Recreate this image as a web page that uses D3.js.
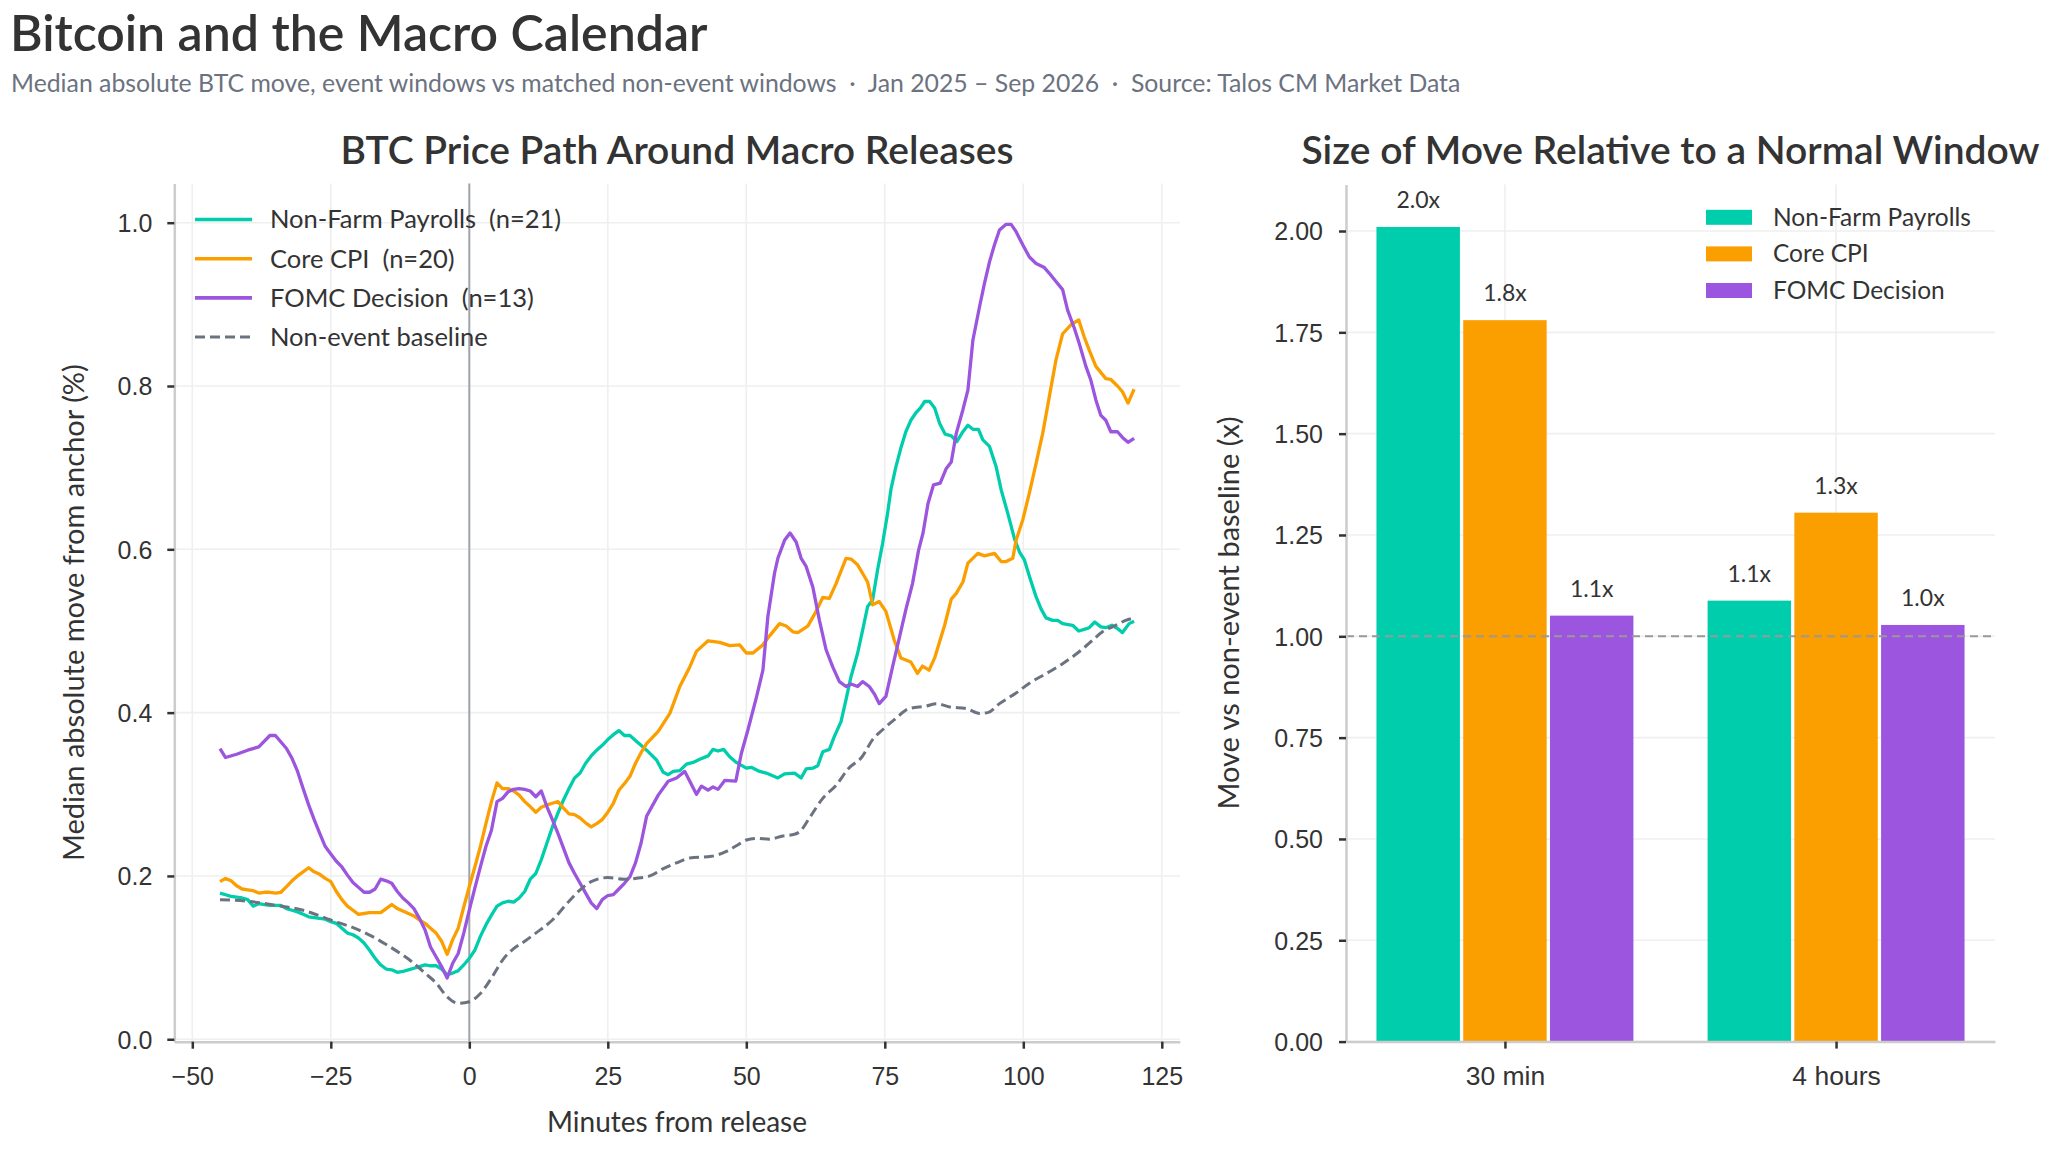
<!DOCTYPE html>
<html>
<head>
<meta charset="utf-8">
<script src="https://cdn.jsdelivr.net/npm/d3@7"></script>
<style>
  body { margin: 0; background: #fff; }
  svg { display: block; font-family: Lato, "Noto Sans", sans-serif; }
</style>
</head>
<body>
<svg id="chart" width="2048" height="1149"></svg>
<script>
// ---- data ----
const seriesNames = ["Non-Farm Payrolls", "Core CPI", "FOMC Decision"];
const seriesCounts = [21, 20, 13];
const baselineName = "Non-event baseline";

// minutes from release / median absolute move (%)
const nfpMinutes = [-45,-44,-43,-42,-41,-40,-39,-38,-37,-36,-35,-34,-33,-32,-31,-30,-29,-28,-27,-26,-25,-24,-23,-22,-21,-20,-19,-18,-17,-16,-15,-14,-13,-12,-11,-10,-9,-8,-7,-6,-5,-4,-3,-2,-1,0,1,2,3,4,5,6,7,8,9,10,11,12,13,14,15,16,17,18,19,20,21,22,23,24,25,26,27,28,29,30,31,32,
  33.8,35.0,35.9,36.8,38.0,39.2,40.4,41.6,43.1,44.0,44.9,45.9,47.0,48.2,50.0,50.9,52.4,53.6,55.7,56.9,58.7,59.9,60.8,62.0,62.9,63.8,65.0,65.9,67.1,68.0,68.9,70.1,71.0,71.9,72.8,73.7,74.6,75.5,76.1,77.0,77.9,78.8,79.7,80.6,81.4,82.2,83.1,84.0,84.9,85.9,87.0,88.0,89.1,90.0,90.9,91.9,92.7,93.9,95.1,96.0,97.2,98.4,99.3,100.2,101.1,102.3,103.2,104.1,105.3,106.2,107.1,108.9,110.0,111.0,111.9,112.9,114.0,114.9,116.0,117.0,117.9,119.1,120];
const nfpValues = [.179,.177,.175,.174,.173,.171,.163,.166,.165,.164,.164,.164,.160,.158,.156,.153,.150,.149,.148,.147,.144,.142,.136,.130,.128,.124,.118,.109,.099,.091,.086,.085,.082,.083,.085,.087,.089,.091,.090,.090,.086,.079,.081,.084,.091,.099,.109,.126,.140,.152,.163,.167,.169,.168,.173,.181,.196,.203,.220,.240,.260,.277,.293,.307,.320,.326,.338,.347,.354,.360,.367,.373,.378,.372,.372,.366,.360,.354,
  .342,.327,.324,.328,.329,.337,.339,.343,.347,.355,.353,.355,.346,.339,.332,.333,.328,.326,.320,.325,.326,.320,.331,.332,.335,.352,.355,.371,.389,.416,.444,.473,.501,.530,.538,.575,.607,.644,.673,.701,.724,.744,.758,.767,.773,.781,.781,.773,.754,.741,.739,.732,.744,.752,.747,.747,.734,.726,.701,.673,.644,.613,.597,.587,.567,.542,.527,.516,.513,.513,.509,.507,.500,.502,.504,.511,.505,.504,.507,.503,.498,.509,.512];

const cpiMinutes = [-45,-44,-43,-42,-41,-40,-39,-38,-37,-36,-35,-34,-33,-32,-31,-30,-29,-28,-27,-26,-25,-24,-23,-22,-21,-20,-19,-18,-17,-16,-15,-14,-13,-12,-11,-10,-9,-8,-7,-6,-5,-4,-3,-2,-1,0,1,2,3,4,5,6,7,8,9,10,11,12,13,14,15,16,17,18,19,20,21,22,23,24,25,26,27,28,29,30,31,32,
  34.1,36.2,38.0,39.8,41.0,43.1,45.2,47.0,48.8,50.0,51.2,53.0,54.2,56.0,57.2,58.4,59.3,61.1,62.6,63.8,65.0,66.2,68.0,68.9,70.1,71.9,72.8,74.0,75.2,76.7,77.9,79.7,80.9,81.8,83.0,84.0,85.8,87.0,87.9,89.1,90.0,91.8,93.0,94.8,96.0,96.9,98.1,98.7,99.9,101.1,102.3,103.5,104.7,105.9,107.1,108.6,110.0,111.0,111.9,113.1,114.9,115.8,117.0,117.9,118.9,120];
const cpiValues = [.193,.197,.194,.188,.184,.183,.182,.179,.180,.180,.179,.180,.187,.194,.200,.205,.210,.205,.202,.197,.193,.181,.171,.163,.158,.153,.154,.155,.155,.155,.160,.165,.160,.157,.154,.151,.146,.142,.136,.130,.120,.104,.122,.136,.162,.187,.211,.236,.264,.291,.314,.307,.307,.304,.299,.291,.285,.278,.284,.287,.289,.291,.283,.276,.275,.271,.265,.260,.264,.269,.278,.289,.305,.313,.322,.338,.351,.362,
  .377,.399,.432,.456,.475,.488,.486,.482,.483,.473,.473,.483,.494,.509,.506,.499,.498,.506,.524,.541,.540,.558,.589,.588,.581,.560,.532,.536,.524,.489,.467,.462,.448,.457,.452,.467,.507,.539,.546,.560,.583,.595,.592,.595,.585,.585,.589,.611,.636,.669,.705,.742,.787,.832,.864,.875,.881,.860,.844,.824,.809,.808,.800,.793,.779,.796];

const fomcMinutes = [-45,-44,-42,-40,-38,-36,-35,-34,-33,-32,-31,-30,-29,-28,-27,-26,-25,-24,-23,-22,-21,-20,-19,-18,-17,-16,-15,-14,-13,-12,-11,-10,-9,-8,-7,-6,-5,-4,-3,-2,-1,0,1,2,3,4,5,6,7,8,9,10,11,12,13,14,15,16,17,18,19,20,21,22,23,24,25,26,27,28,29,30,31,32,
  34.1,35.9,37.4,38.9,41.0,41.9,43.1,44.0,44.9,46.1,48.1,49.1,50.3,51.8,53.0,53.9,55.1,55.7,56.9,57.9,59.0,59.9,60.8,62.0,63.2,64.4,65.6,66.8,68.0,68.9,70.1,71.0,72.2,73.1,74.0,75.2,76.4,77.6,78.8,80.0,81.1,81.9,82.8,83.8,85.0,86.1,87.0,87.9,89.1,90.0,90.9,92.1,93.0,93.9,94.8,95.7,96.9,97.8,98.7,99.9,101.1,102.3,103.8,104.7,105.9,107.1,108.0,109.2,110.1,111.3,112.2,113.1,114.0,114.9,115.8,117.0,117.9,118.9,120];
const fomcValues = [.356,.345,.349,.354,.358,.372,.372,.364,.356,.344,.328,.307,.287,.269,.252,.236,.227,.218,.211,.201,.192,.186,.180,.180,.184,.196,.194,.191,.181,.173,.167,.160,.148,.134,.113,.101,.089,.075,.093,.105,.130,.158,.185,.211,.236,.256,.291,.295,.303,.306,.307,.306,.304,.297,.304,.285,.269,.252,.234,.216,.203,.191,.179,.167,.160,.171,.176,.177,.184,.191,.199,.216,.240,.273,
  .299,.316,.320,.328,.300,.310,.305,.309,.306,.317,.316,.350,.379,.418,.452,.518,.571,.589,.611,.620,.609,.589,.579,.554,.513,.477,.456,.438,.432,.435,.432,.438,.432,.423,.411,.420,.456,.491,.526,.558,.599,.620,.656,.679,.681,.699,.707,.742,.771,.795,.856,.897,.926,.952,.973,.991,.998,.998,.989,.973,.958,.950,.945,.938,.928,.918,.893,.871,.852,.824,.807,.783,.764,.758,.744,.744,.737,.731,.736];

const baseMinutes = [-45,-40,-35,-30,-25,-20,-17,-15,-12,-10,-8,-6,-4,-2,0,2,4,6,8,10,12,15,18,20,22,25,28,30,32.6,35.0,37.4,39.8,43.7,46.4,48.2,50,51.8,54.2,56.6,58.7,59.9,61.4,63.8,66.2,68.5,70.9,72.8,74.6,77.0,79.4,82.5,84.3,86.7,89.7,92.1,93.6,95.7,98.7,101.1,104.7,107.1,109.8,111.9,114.3,116.7,118.5,120];
const baseValues = [.171,.169,.164,.158,.146,.134,.124,.116,.103,.093,.081,.069,.052,.044,.046,.056,.075,.097,.111,.120,.130,.146,.169,.183,.193,.198,.196,.197,.200,.209,.216,.222,.224,.230,.237,.244,.246,.245,.249,.251,.256,.271,.295,.311,.332,.346,.367,.379,.393,.405,.408,.411,.407,.405,.399,.400,.411,.424,.436,.450,.460,.473,.485,.499,.507,.513,.516];

// ratio of event-window move to non-event move
const windowLabels = ["30 min", "4 hours"];
const nfpRatio = [2.01, 1.088];
const cpiRatio = [1.78, 1.305];
const fomcRatio = [1.051, 1.028];

const xTickValues = [-50, -25, 0, 25, 50, 75, 100, 125];
const yTickValues = [0, 0.2, 0.4, 0.6, 0.8, 1.0];
const ratioTickValues = [0, 0.25, 0.5, 0.75, 1.0, 1.25, 1.5, 1.75, 2.0];

// ---- styling ----
const ink = "#333333";
const colors = ["#00cdac", "#fb9e00", "#9b55de"];
const baseColor = "#6b7280";
const gridColor = "#efefef";
const spineColor = "#cccccc";

const svg = d3.select("#chart");

svg.append("text")
  .attr("x", 10).attr("y", 51)
  .attr("font-size", 50).attr("font-weight", 600)
  .attr("fill", ink)
  .text("Bitcoin and the Macro Calendar");

svg.append("text")
  .attr("x", 11).attr("y", 92)
  .attr("font-size", 24.8)
  .attr("fill", "#6b7280")
  .style("white-space", "pre")
  .text("Median absolute BTC move, event windows vs matched non-event windows  ·  Jan 2025 – Sep 2026  ·  Source: Talos CM Market Data");

// axis styling shared by both panels
function styleAxis(g) {
  g.select(".domain").attr("stroke", spineColor).attr("stroke-width", 2.5);
  g.selectAll(".tick line").attr("stroke", ink).attr("stroke-width", 2.5);
  g.selectAll(".tick text").attr("fill", ink).attr("font-size", 25);
}

// ================= left panel: price path =================
const L = { left: 174.3, right: 1179.8, top: 183.5, bottom: 1041.7 };
const x = d3.scaleLinear().domain([-53.25, 128.25]).range([L.left, L.right]);
const y = d3.scaleLinear().domain([-0.003, 1.048]).range([L.bottom, L.top]);

const left = svg.append("g");

left.append("text")
  .attr("x", (L.left + L.right) / 2).attr("y", 164)
  .attr("text-anchor", "middle")
  .attr("font-size", 39).attr("font-weight", 600)
  .attr("fill", ink)
  .text("BTC Price Path Around Macro Releases");

// grid
left.append("g").selectAll("line").data(xTickValues).join("line")
  .attr("x1", d => x(d)).attr("x2", d => x(d))
  .attr("y1", L.top).attr("y2", L.bottom)
  .attr("stroke", gridColor).attr("stroke-width", 1.6);
left.append("g").selectAll("line").data(yTickValues).join("line")
  .attr("x1", L.left).attr("x2", L.right)
  .attr("y1", d => y(d)).attr("y2", d => y(d))
  .attr("stroke", gridColor).attr("stroke-width", 1.6);

// release marker
left.append("line")
  .attr("x1", x(0)).attr("x2", x(0))
  .attr("y1", L.top).attr("y2", L.bottom)
  .attr("stroke", "#a0a4ad").attr("stroke-width", 2);

const line = d3.line().x(d => x(d[0])).y(d => y(d[1]));
const zip = (a, b) => a.map((m, i) => [m, b[i]]);

const paths = [
  zip(nfpMinutes, nfpValues),
  zip(cpiMinutes, cpiValues),
  zip(fomcMinutes, fomcValues)
];

left.append("g").selectAll("path").data(paths).join("path")
  .attr("d", line)
  .attr("fill", "none")
  .attr("stroke", (d, i) => colors[i])
  .attr("stroke-width", 3.3)
  .attr("stroke-linejoin", "round");

left.append("path")
  .attr("d", line.curve(d3.curveMonotoneX)(zip(baseMinutes, baseValues)))
  .attr("fill", "none")
  .attr("stroke", baseColor)
  .attr("stroke-width", 3)
  .attr("stroke-dasharray", "10,5");

// axes
const xAxis = left.append("g")
  .attr("transform", `translate(0,${L.bottom})`)
  .call(d3.axisBottom(x).tickValues(xTickValues).tickSize(7).tickSizeOuter(0));
styleAxis(xAxis);
xAxis.selectAll(".tick text").attr("y", 43).attr("dy", null);

const yAxis = left.append("g")
  .attr("transform", `translate(${L.left},0)`)
  .call(d3.axisLeft(y).tickValues(yTickValues).tickFormat(d3.format(".1f")).tickSize(7).tickSizeOuter(0));
styleAxis(yAxis);
yAxis.selectAll(".tick text").attr("x", -22).attr("dy", "0.35em");

left.append("text")
  .attr("x", (L.left + L.right) / 2).attr("y", 1132)
  .attr("text-anchor", "middle")
  .attr("font-size", 28).attr("fill", ink)
  .text("Minutes from release");

left.append("text")
  .attr("transform", `translate(74,${(L.top + L.bottom) / 2}) rotate(-90)`)
  .attr("text-anchor", "middle")
  .attr("dy", "0.35em")
  .attr("font-size", 29).attr("fill", ink)
  .text("Median absolute move from anchor (%)");

// legend
const legendItems = seriesNames.map((n, i) => ({ label: `${n}  (n=${seriesCounts[i]})`, color: colors[i], dash: null }))
  .concat([{ label: baselineName, color: baseColor, dash: "10,5" }]);
const lg = left.append("g").selectAll("g").data(legendItems).join("g")
  .attr("transform", (d, i) => `translate(195,${219.5 + i * 39.2})`);
lg.append("line")
  .attr("x1", 0).attr("x2", 57)
  .attr("stroke", d => d.color)
  .attr("stroke-width", d => d.dash ? 3 : 3.6)
  .attr("stroke-dasharray", d => d.dash);
lg.append("text")
  .attr("x", 75).attr("dy", "0.35em")
  .attr("font-size", 25.5).attr("fill", ink)
  .style("white-space", "pre")
  .text(d => d.label);

// ================= right panel: ratio bars =================
const R = { left: 1346, right: 1995, top: 184.4, bottom: 1041.6 };
const xr = d3.scaleLinear().domain([-0.48, 1.48]).range([R.left, R.right]);
const yr = d3.scaleLinear().domain([0, 2.115]).range([R.bottom, R.top]);

const right = svg.append("g");

right.append("text")
  .attr("x", (R.left + R.right) / 2).attr("y", 164)
  .attr("text-anchor", "middle")
  .attr("font-size", 39).attr("font-weight", 600)
  .attr("fill", ink)
  .text("Size of Move Relative to a Normal Window");

right.append("g").selectAll("line").data([0, 1]).join("line")
  .attr("x1", d => xr(d)).attr("x2", d => xr(d))
  .attr("y1", R.top).attr("y2", R.bottom)
  .attr("stroke", gridColor).attr("stroke-width", 1.6);
right.append("g").selectAll("line").data(ratioTickValues).join("line")
  .attr("x1", R.left).attr("x2", R.right)
  .attr("y1", d => yr(d)).attr("y2", d => yr(d))
  .attr("stroke", gridColor).attr("stroke-width", 1.6);

const ratios = [nfpRatio, cpiRatio, fomcRatio];
const offsets = [-0.262, 0, 0.262];
const barW = 0.252;

const bars = [];
ratios.forEach((vals, s) => vals.forEach((v, w) => bars.push({ s, w, v })));

right.append("g").selectAll("rect").data(bars).join("rect")
  .attr("x", d => xr(d.w + offsets[d.s] - barW / 2))
  .attr("width", xr(barW) - xr(0))
  .attr("y", d => yr(d.v))
  .attr("height", d => yr(0) - yr(d.v))
  .attr("fill", d => colors[d.s]);

right.append("g").selectAll("text").data(bars).join("text")
  .attr("x", d => xr(d.w + offsets[d.s]))
  .attr("y", d => yr(d.v) - 19)
  .attr("text-anchor", "middle")
  .attr("font-size", 23).attr("fill", ink)
  .text(d => d.v.toFixed(1) + "x");

// parity line
right.append("line")
  .attr("x1", R.left).attr("x2", R.right)
  .attr("y1", yr(1)).attr("y2", yr(1))
  .attr("stroke", "#999999").attr("stroke-width", 2)
  .attr("stroke-dasharray", "8,5");

const xrAxis = right.append("g")
  .attr("transform", `translate(0,${R.bottom})`)
  .call(d3.axisBottom(xr).tickValues([0, 1]).tickFormat(i => windowLabels[i]).tickSize(7).tickSizeOuter(0));
styleAxis(xrAxis);
xrAxis.selectAll(".tick text").attr("y", 43).attr("dy", null).attr("font-size", 26.5);

const yrAxis = right.append("g")
  .attr("transform", `translate(${R.left},0)`)
  .call(d3.axisLeft(yr).tickValues(ratioTickValues).tickFormat(d3.format(".2f")).tickSize(7).tickSizeOuter(0));
styleAxis(yrAxis);
yrAxis.selectAll(".tick text").attr("x", -23).attr("dy", "0.35em");

right.append("text")
  .attr("transform", `translate(1229,${(R.top + R.bottom) / 2}) rotate(-90)`)
  .attr("text-anchor", "middle")
  .attr("dy", "0.35em")
  .attr("font-size", 29).attr("fill", ink)
  .text("Move vs non-event baseline (x)");

const rg = right.append("g").selectAll("g").data(seriesNames).join("g")
  .attr("transform", (d, i) => `translate(1706,${217.3 + i * 36.6})`);
rg.append("rect")
  .attr("y", -7.5).attr("width", 46).attr("height", 15)
  .attr("fill", (d, i) => colors[i]);
rg.append("text")
  .attr("x", 67).attr("dy", "0.35em")
  .attr("font-size", 24.5).attr("fill", ink)
  .text(d => d);
</script>
</body>
</html>
